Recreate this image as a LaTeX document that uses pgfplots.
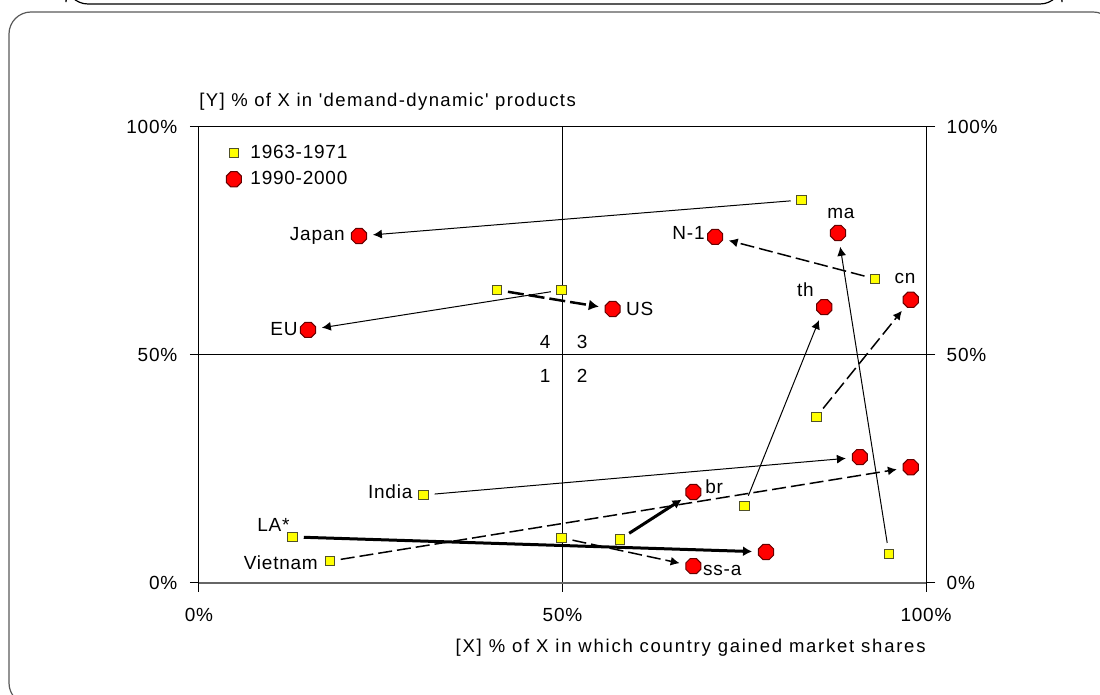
\documentclass[border=0pt]{standalone}
\usepackage{fontspec}
\setmainfont{Liberation Sans}[LetterSpace=4]
\newfontfamily\labfont{Liberation Sans}[LetterSpace=7.5]
\newfontfamily\xlabfont{Liberation Sans}[LetterSpace=9.5]
\usepackage{pgfplots}
\pgfplotsset{compat=1.18}
\usetikzlibrary{arrows.meta}

% octagon marker for the 1990-2000 points
\pgfdeclareplotmark{octagon*}{%
  \pgfpathmoveto{\pgfpointpolar{22.5}{\pgfplotmarksize}}%
  \pgfpathlineto{\pgfpointpolar{67.5}{\pgfplotmarksize}}%
  \pgfpathlineto{\pgfpointpolar{112.5}{\pgfplotmarksize}}%
  \pgfpathlineto{\pgfpointpolar{157.5}{\pgfplotmarksize}}%
  \pgfpathlineto{\pgfpointpolar{202.5}{\pgfplotmarksize}}%
  \pgfpathlineto{\pgfpointpolar{247.5}{\pgfplotmarksize}}%
  \pgfpathlineto{\pgfpointpolar{292.5}{\pgfplotmarksize}}%
  \pgfpathlineto{\pgfpointpolar{337.5}{\pgfplotmarksize}}%
  \pgfpathclose
  \pgfusepathqfillstroke
}

\definecolor{sqfill}{RGB}{255,255,0}
\definecolor{sqdraw}{RGB}{80,80,40}
\definecolor{cfill}{RGB}{255,0,0}
\definecolor{cdraw}{RGB}{100,0,0}

\tikzset{
  thinarr/.style={black, line width=0.5pt, -{Latex[length=4.5pt,width=4.5pt]}, shorten <=5.5pt, shorten >=7pt},
  dasharr/.style={black, line width=0.75pt, dash pattern=on 7pt off 2.5pt, -{Latex[length=4.5pt,width=4.5pt]}, shorten <=5.5pt, shorten >=7pt},
  thickarr/.style={black, line width=1.5pt, -{Latex[length=4.5pt,width=5pt]}, shorten <=5.5pt, shorten >=7pt},
  thickdash/.style={black, line width=1.25pt, dash pattern=on 8pt off 2.5pt, -{Latex[length=5pt,width=5.5pt]}, shorten <=5.5pt, shorten >=7pt},
  lab/.style={inner sep=0pt},
}

\begin{document}
\fontsize{9.5}{11}\selectfont
\begin{tikzpicture}
\useasboundingbox (0,0) rectangle (550pt,-347.5pt);
\begin{scope}
  \clip (0,0) rectangle (550pt,-347.5pt);
  \draw[black, line width=0.6pt, rounded corners=11pt] (33pt,10pt) rectangle (531pt,-2pt);
  \draw[black!65, line width=0.6pt, rounded corners=11pt] (4.5pt,-6pt) rectangle (557.5pt,-352.5pt);
\end{scope}

\begin{axis}[
    at={(99.5pt,-291.5pt)}, anchor=south west,
    scale only axis, width=363.5pt, height=228pt,
    xmin=0, xmax=100, ymin=0, ymax=100,
    xtick={0,50,100}, xticklabels={0\%,50\%,100\%},
    ytick={0,50,100}, yticklabels={0\%,50\%,100\%},
    xtick pos=left, ytick pos=both, yticklabel pos=left,
    xticklabel style={yshift=-5pt},
    yticklabel style={xshift=-3pt},
    tick align=outside, major tick length=4.5pt,
    tick style={black, line width=0.5pt},
    axis line style={black, line width=0.5pt},
    grid=major, grid style={black, line width=0.5pt},
    clip=false,
    legend style={draw=none, fill=none, inner sep=0pt, at={(axis cs:3.7,97.0)}, anchor=north west,
        row sep=1pt, nodes={inner sep=2pt, inner xsep=4.5pt}},
    legend cell align=left,
    legend image code/.code={\draw[#1] plot coordinates {(0pt,0pt)};},
]
% 0% base line, drawn a little heavier
\addplot[forget plot, black!60, line width=1pt] coordinates {(0,0) (100,0)};

% moves from 1963-1971 to 1990-2000
\addplot[forget plot, thinarr] coordinates {(82.9,84.0) (22.0,76.1)};   % Japan
\addplot[forget plot, thinarr] coordinates {(49.9,64.25) (15.0,55.5)};  % EU
\addplot[forget plot, thickdash] coordinates {(41.0,64.25) (56.9,60.1)}; % US
\addplot[forget plot, dasharr] coordinates {(93.0,66.7) (71.0,75.9)};   % N-1
\addplot[forget plot, thinarr] coordinates {(94.9,6.4) (87.9,76.75)};   % ma
\addplot[forget plot, thinarr] coordinates {(75.0,16.9) (86.0,60.5)};   % th
\addplot[forget plot, dasharr] coordinates {(84.9,36.4) (97.9,62.1)};   % cn
\addplot[forget plot, thinarr] coordinates {(30.9,19.3) (90.9,27.6)};   % India
\addplot[forget plot, dasharr] coordinates {(18.0,4.8) (97.9,25.4)};    % Vietnam
\addplot[forget plot, thickarr] coordinates {(12.9,10.1) (78.0,6.8)};   % LA*
\addplot[forget plot, dasharr] coordinates {(49.9,9.9) (68.0,3.7)};     % ss-a
\addplot[forget plot, thickarr] coordinates {(57.9,9.6) (68.0,19.95)};  % br

\addplot[only marks, mark=square*, mark size=2.4pt,
    mark options={fill=sqfill, draw=sqdraw, line width=0.5pt}] coordinates {
    (82.9,84.0) (49.9,64.25) (41.0,64.25) (93.0,66.7) (94.9,6.4) (75.0,16.9)
    (84.9,36.4) (30.9,19.3) (18.0,4.8) (12.9,10.1) (49.9,9.9) (57.9,9.6)};
\addlegendentry{1963-1971}
\addplot[only marks, mark=octagon*, mark size=4.1pt,
    mark options={fill=cfill, draw=cdraw, line width=0.5pt}] coordinates {
    (22.0,76.1) (15.0,55.5) (56.9,60.1) (71.0,75.9) (87.9,76.75) (86.0,60.5)
    (97.9,62.1) (90.9,27.6) (97.9,25.4) (78.0,6.8) (68.0,3.7) (68.0,19.95)};
\addlegendentry{1990-2000}

% country labels
\node[lab, anchor=east] at (axis cs:20.1,76.1) {Japan};
\node[lab, anchor=east] at (axis cs:13.6,55.7) {EU};
\node[lab, anchor=west] at (axis cs:58.7,60.1) {US};
\node[lab, anchor=east] at (axis cs:69.6,76.75) {N-1};
\node[lab] at (axis cs:88.3,81.1) {ma};
\node[lab] at (axis cs:83.4,64.25) {th};
\node[lab] at (axis cs:97.1,66.7) {cn};
\node[lab, anchor=west] at (axis cs:69.6,21.05) {br};
\node[lab, anchor=west] at (axis cs:69.3,2.85) {ss-a};
\node[lab, anchor=east] at (axis cs:29.4,19.95) {India};
\node[lab, anchor=east] at (axis cs:12.5,12.7) {LA*};
\node[lab, anchor=east] at (axis cs:16.4,4.4) {Vietnam};

% quadrant numbers
\node[lab] at (axis cs:47.6,52.85) {4};
\node[lab] at (axis cs:52.7,52.85) {3};
\node[lab] at (axis cs:47.6,45.4) {1};
\node[lab] at (axis cs:52.7,45.4) {2};

% axis titles
\node[lab, anchor=base west, yshift=10pt, font=\labfont\fontsize{9.25}{11}\selectfont]
    at (rel axis cs:0,1) {[Y] \% of X in 'demand-dynamic' products};
\node[lab, anchor=base east, yshift=-35pt, font=\xlabfont\fontsize{9.25}{11}\selectfont]
    at (rel axis cs:1,0) {[X] \% of X in which country gained market shares};
\end{axis}

% right-hand percentage labels
\begin{axis}[
    at={(99.5pt,-291.5pt)}, anchor=south west,
    scale only axis, width=363.5pt, height=228pt,
    xmin=0, xmax=100, ymin=0, ymax=100,
    axis x line=none, axis y line*=right,
    ytick={0,50,100}, yticklabels={0\%,50\%,100\%},
    yticklabel style={xshift=2.5pt},
    tick align=outside, major tick length=4.5pt,
    tick style={black, line width=0.5pt},
    axis line style={black, line width=0.5pt},
]
\end{axis}
\end{tikzpicture}
\end{document}
